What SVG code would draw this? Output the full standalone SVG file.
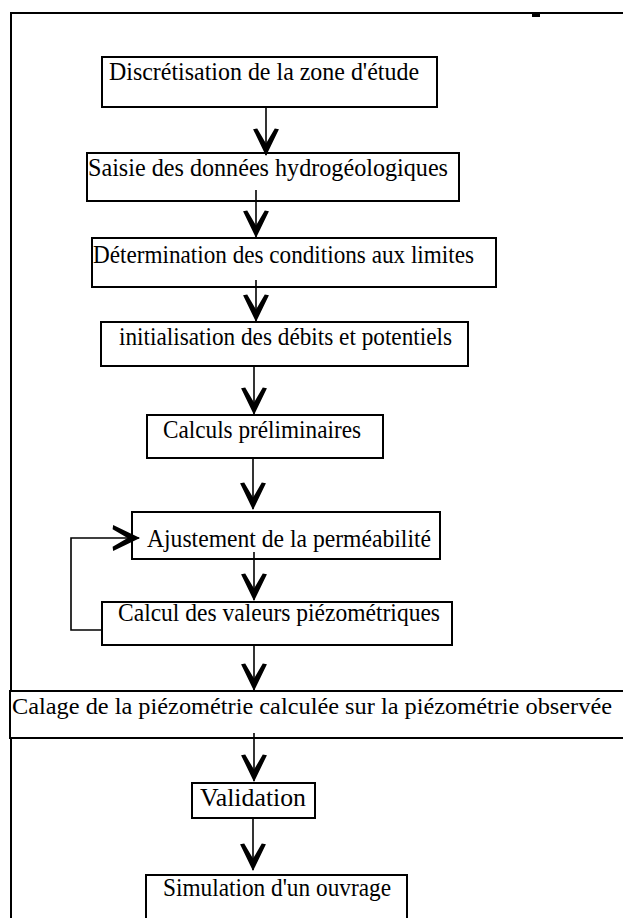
<svg xmlns="http://www.w3.org/2000/svg" width="623" height="918" viewBox="0 0 623 918">
<style>
.box{fill:#fff;stroke:#000;stroke-width:2}
.lbl{font-family:"Liberation Serif","Times New Roman",serif;font-size:25px;fill:#000}
.con{fill:none;stroke:#000;stroke-width:1.6}
</style>
<defs>
<marker id="ah" markerUnits="userSpaceOnUse" markerWidth="30" markerHeight="30" viewBox="-27 -14 29 28" refX="0" refY="0" orient="auto">
<path d="M1,0 L-25,-12.5 L-25.5,-8.5 L-11,0 L-25.5,8.5 L-25,12.5 Z" fill="#000"/>
</marker>
</defs>
<rect width="623" height="918" fill="#fff"/>
<g id="frame">
<path d="M11,920 V13 H625" fill="none" stroke="#000" stroke-width="2"/>
<rect x="532" y="12" width="8" height="5" fill="#000"/>
</g>
<g id="n1"><rect class="box" x="102" y="57" width="335" height="50"/><text class="lbl" x="109" y="80" textLength="310" lengthAdjust="spacingAndGlyphs">Discrétisation de la zone d'étude</text></g>
<g id="n2"><rect class="box" x="87" y="153" width="372" height="48"/><text class="lbl" x="88" y="176" textLength="360" lengthAdjust="spacingAndGlyphs">Saisie des données hydrogéologiques</text></g>
<g id="n3"><rect class="box" x="92" y="238" width="404" height="49"/><text class="lbl" x="93" y="263" textLength="381" lengthAdjust="spacingAndGlyphs">Détermination des conditions aux limites</text></g>
<g id="n4"><rect class="box" x="101" y="322" width="367" height="44"/><text class="lbl" x="119" y="345" textLength="333" lengthAdjust="spacingAndGlyphs">initialisation des débits et potentiels</text></g>
<g id="n5"><rect class="box" x="147" y="415" width="236" height="43"/><text class="lbl" x="163" y="438" textLength="198" lengthAdjust="spacingAndGlyphs">Calculs préliminaires</text></g>
<g id="n6"><rect class="box" x="132" y="512" width="308" height="47"/><text class="lbl" x="147" y="547" textLength="284" lengthAdjust="spacingAndGlyphs">Ajustement de la perméabilité</text></g>
<g id="n7"><rect class="box" x="102" y="602" width="350" height="43"/><text class="lbl" x="118" y="621" textLength="322" lengthAdjust="spacingAndGlyphs">Calcul des valeurs piézométriques</text></g>
<g id="n8"><rect class="box" x="10" y="691" width="640" height="47"/><text class="lbl" x="12" y="714" font-size="23" style="font-size:23px" textLength="600" lengthAdjust="spacingAndGlyphs">Calage de la piézométrie calculée sur la piézométrie observée</text></g>
<g id="n9"><rect class="box" x="192" y="783" width="123" height="35"/><text class="lbl" x="200" y="806" textLength="106" lengthAdjust="spacingAndGlyphs">Validation</text></g>
<g id="n10"><rect class="box" x="146" y="875" width="261" height="60"/><text class="lbl" x="163" y="896" textLength="228" lengthAdjust="spacingAndGlyphs">Simulation d'un ouvrage</text></g>
<g id="connectors">
<path class="con" d="M266,107 V155" marker-end="url(#ah)"/>
<path class="con" d="M256,190 V237" marker-end="url(#ah)"/>
<path class="con" d="M256,280 V321" marker-end="url(#ah)"/>
<path class="con" d="M254,366 V414" marker-end="url(#ah)"/>
<path class="con" d="M253,458 V509" marker-end="url(#ah)"/>
<path class="con" d="M254,552 V600" marker-end="url(#ah)"/>
<path class="con" d="M254,645 V690" marker-end="url(#ah)"/>
<path class="con" d="M254,733 V781" marker-end="url(#ah)"/>
<path class="con" d="M253,818 V870" marker-end="url(#ah)"/>
<path class="con" d="M102,630 H71 V538 H139" marker-end="url(#ah)"/>
</g>
</svg>
